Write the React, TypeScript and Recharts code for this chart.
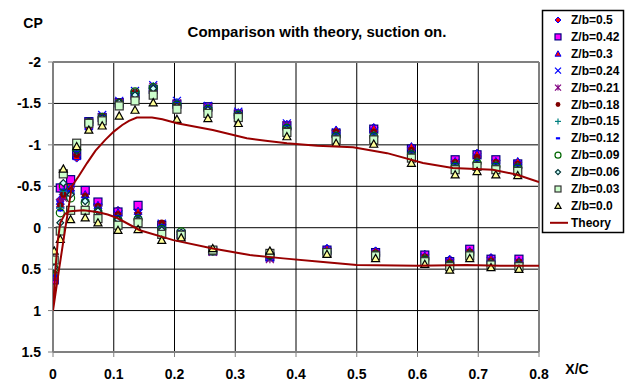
import React from 'react';
import { ScatterChart, Scatter, XAxis, YAxis, CartesianGrid, ReferenceLine } from 'recharts';

// chordwise stations (x/c) of the pressure taps
const upperX = [0.017, 0.039, 0.059, 0.081, 0.109, 0.135, 0.165, 0.204, 0.255, 0.305, 0.385, 0.466, 0.528, 0.59, 0.662, 0.698, 0.729, 0.765];
const lowerX = [0.002, 0.012, 0.029, 0.053, 0.074, 0.107, 0.14, 0.179, 0.211, 0.263, 0.357, 0.451, 0.531, 0.612, 0.653, 0.686, 0.721, 0.767];

// Cp per spanwise station, upper / lower surface
const zb050Up = [-0.40, -0.84, -1.20, -1.30, -1.50, -1.62, -1.68, -1.50, -1.45, -1.38, -1.24, -1.17, -1.21, -0.97, -0.80, -0.90, -0.81, -0.79];
const zb050Lo = [0.62, -0.34, -0.52, -0.42, -0.28, -0.21, -0.22, -0.04, 0.08, 0.27, 0.34, 0.25, 0.28, 0.32, 0.38, 0.27, 0.36, 0.39];
const zb042Up = [-0.48, -0.88, -1.28, -1.33, -1.51, -1.60, -1.67, -1.49, -1.46, -1.37, -1.23, -1.14, -1.19, -0.95, -0.82, -0.88, -0.82, -0.77];
const zb042Lo = [0.63, -0.48, -0.58, -0.45, -0.31, -0.19, -0.27, -0.03, 0.08, 0.28, 0.35, 0.27, 0.30, 0.33, 0.41, 0.26, 0.38, 0.38];
const zb030Up = [-0.38, -0.86, -1.22, -1.29, -1.49, -1.63, -1.69, -1.51, -1.44, -1.39, -1.25, -1.18, -1.20, -0.98, -0.80, -0.89, -0.80, -0.80];
const zb030Lo = [0.60, -0.32, -0.48, -0.40, -0.27, -0.18, -0.20, -0.04, 0.08, 0.27, 0.33, 0.25, 0.28, 0.34, 0.39, 0.28, 0.37, 0.40];
const zb024Up = [-0.42, -0.90, -1.28, -1.36, -1.53, -1.65, -1.72, -1.53, -1.47, -1.40, -1.26, -1.15, -1.15, -0.93, -0.78, -0.83, -0.78, -0.76];
const zb024Lo = [0.61, -0.28, -0.46, -0.37, -0.25, -0.15, -0.17, -0.05, 0.07, 0.28, 0.36, 0.28, 0.31, 0.36, 0.42, 0.30, 0.40, 0.42];
const zb021Up = [-0.36, -0.92, -1.27, -1.33, -1.51, -1.62, -1.70, -1.50, -1.45, -1.38, -1.24, -1.13, -1.13, -0.92, -0.77, -0.82, -0.77, -0.75];
const zb021Lo = [0.58, -0.30, -0.44, -0.36, -0.23, -0.13, -0.14, -0.02, 0.08, 0.29, 0.38, 0.29, 0.32, 0.37, 0.43, 0.31, 0.41, 0.43];
const zb018Up = [-0.40, -0.88, -1.26, -1.35, -1.52, -1.64, -1.68, -1.49, -1.44, -1.36, -1.21, -1.16, -1.16, -0.94, -0.79, -0.85, -0.79, -0.77];
const zb018Lo = [0.55, -0.27, -0.45, -0.38, -0.26, -0.16, -0.16, -0.06, 0.08, 0.27, 0.34, 0.28, 0.30, 0.35, 0.42, 0.29, 0.40, 0.41];
const zb015Up = [-0.44, -0.93, -1.25, -1.34, -1.50, -1.63, -1.71, -1.51, -1.45, -1.37, -1.22, -1.12, -1.12, -0.90, -0.76, -0.80, -0.76, -0.74];
const zb015Lo = [0.56, -0.24, -0.42, -0.34, -0.22, -0.12, -0.13, -0.01, 0.07, 0.28, 0.35, 0.29, 0.32, 0.37, 0.44, 0.31, 0.42, 0.43];
const zb012Up = [-0.46, -0.91, -1.29, -1.35, -1.52, -1.61, -1.70, -1.52, -1.46, -1.39, -1.24, -1.14, -1.14, -0.92, -0.78, -0.82, -0.78, -0.76];
const zb012Lo = [0.58, -0.21, -0.44, -0.36, -0.24, -0.14, -0.15, -0.03, 0.07, 0.27, 0.34, 0.28, 0.31, 0.36, 0.43, 0.30, 0.41, 0.42];
const zb009Up = [-0.50, -0.95, -1.27, -1.33, -1.50, -1.64, -1.69, -1.48, -1.43, -1.36, -1.20, -1.10, -1.10, -0.88, -0.74, -0.78, -0.74, -0.72];
const zb009Lo = [0.49, -0.18, -0.36, -0.30, -0.19, -0.09, -0.10, 0.02, 0.05, 0.28, 0.33, 0.30, 0.33, 0.39, 0.45, 0.33, 0.45, 0.46];
const zb006Up = [-0.54, -0.98, -1.28, -1.32, -1.51, -1.60, -1.68, -1.46, -1.42, -1.35, -1.18, -1.08, -1.08, -0.86, -0.72, -0.76, -0.72, -0.70];
const zb006Lo = [0.48, -0.06, -0.40, -0.32, -0.20, -0.10, -0.09, 0.03, 0.06, 0.27, 0.34, 0.30, 0.33, 0.39, 0.45, 0.32, 0.44, 0.45];
const zb003Up = [-0.65, -1.02, -1.26, -1.29, -1.47, -1.53, -1.60, -1.43, -1.38, -1.33, -1.15, -1.06, -1.06, -0.84, -0.70, -0.74, -0.70, -0.68];
const zb003Lo = [0.39, 0.04, -0.21, -0.21, -0.11, -0.03, -0.06, 0.08, 0.09, 0.27, 0.31, 0.30, 0.34, 0.41, 0.47, 0.34, 0.45, 0.47];
const zb000Up = [-0.71, -0.98, -1.18, -1.23, -1.35, -1.42, -1.51, -1.31, -1.32, -1.26, -1.10, -1.02, -1.01, -0.78, -0.64, -0.68, -0.64, -0.63];
const zb000Lo = [0.28, 0.14, -0.10, -0.12, -0.06, 0.03, 0.02, 0.15, 0.12, 0.25, 0.28, 0.32, 0.37, 0.44, 0.51, 0.37, 0.48, 0.50];

// theory: upper surface from trailing edge to leading edge, then lower surface back
const theoryUpX = [0.8, 0.764, 0.724, 0.658, 0.609, 0.55, 0.494, 0.435, 0.385, 0.35, 0.319, 0.263, 0.204, 0.18, 0.163, 0.138, 0.125, 0.114, 0.1, 0.086, 0.07, 0.056, 0.043, 0.031, 0.02, 0.01, 0];
const theoryUpCp = [-0.55, -0.64, -0.70, -0.72, -0.78, -0.90, -0.97, -0.99, -1.02, -1.05, -1.08, -1.18, -1.26, -1.31, -1.33, -1.33, -1.29, -1.24, -1.16, -1.06, -0.93, -0.78, -0.63, -0.50, 0.02, 0.50, 1.0];
const theoryLoX = [0.004, 0.008, 0.012, 0.02, 0.028, 0.05, 0.073, 0.09, 0.105, 0.143, 0.198, 0.263, 0.324, 0.379, 0.44, 0.5, 0.6, 0.68, 0.736, 0.8];
const theoryLoCp = [0.5, 0.15, -0.06, -0.17, -0.20, -0.21, -0.19, -0.16, -0.12, 0.03, 0.15, 0.25, 0.33, 0.37, 0.41, 0.45, 0.46, 0.45, 0.46, 0.46];

const xTicks = [0, 0.1, 0.2, 0.3, 0.4, 0.5, 0.6, 0.7, 0.8];
const yTicks = [-2, -1.5, -1, -0.5, 0, 0.5, 1, 1.5];

const series = [
  { name: 'Z/b=0.5', up: zb050Up, lo: zb050Lo, kind: 'diamond' },
  { name: 'Z/b=0.42', up: zb042Up, lo: zb042Lo, kind: 'square' },
  { name: 'Z/b=0.3', up: zb030Up, lo: zb030Lo, kind: 'triangle' },
  { name: 'Z/b=0.24', up: zb024Up, lo: zb024Lo, kind: 'x' },
  { name: 'Z/b=0.21', up: zb021Up, lo: zb021Lo, kind: 'star' },
  { name: 'Z/b=0.18', up: zb018Up, lo: zb018Lo, kind: 'dot' },
  { name: 'Z/b=0.15', up: zb015Up, lo: zb015Lo, kind: 'plus' },
  { name: 'Z/b=0.12', up: zb012Up, lo: zb012Lo, kind: 'dash' },
  { name: 'Z/b=0.09', up: zb009Up, lo: zb009Lo, kind: 'circle' },
  { name: 'Z/b=0.06', up: zb006Up, lo: zb006Lo, kind: 'sdiamond' },
  { name: 'Z/b=0.03', up: zb003Up, lo: zb003Lo, kind: 'lsquare' },
  { name: 'Z/b=0.0', up: zb000Up, lo: zb000Lo, kind: 'ytriangle' },
];

const toPoints = (up: number[], lo: number[]) => [
  ...upperX.map((x, i) => ({ x, y: up[i] })),
  ...lowerX.map((x, i) => ({ x, y: lo[i] })),
];

const theoryData = [
  ...theoryUpX.map((x, i) => ({ x, y: theoryUpCp[i] })),
  ...theoryLoX.map((x, i) => ({ x, y: theoryLoCp[i] })),
];

const THEORY = '#990000';
const FONT = '"Liberation Sans", Arial, sans-serif';

function Marker({ kind, cx, cy, s }: { kind: string; cx: number; cy: number; s: number }) {
  switch (kind) {
    case 'diamond':
      return <polygon points={`${cx},${cy - s} ${cx + s},${cy} ${cx},${cy + s} ${cx - s},${cy}`} fill="#FF0000" stroke="#0000FF" strokeWidth={1} />;
    case 'square':
      return <rect x={cx - s} y={cy - s} width={2 * s} height={2 * s} fill="#FF00FF" stroke="#000080" strokeWidth={1.2} />;
    case 'triangle':
      return <polygon points={`${cx},${cy - s} ${cx + s},${cy + s * 0.8} ${cx - s},${cy + s * 0.8}`} fill="#FF0000" stroke="#0000FF" strokeWidth={1} />;
    case 'x':
      return (
        <g stroke="#0000FF" strokeWidth={1.2}>
          <line x1={cx - s} y1={cy - s} x2={cx + s} y2={cy + s} />
          <line x1={cx - s} y1={cy + s} x2={cx + s} y2={cy - s} />
        </g>
      );
    case 'star':
      return (
        <g stroke="#800080" strokeWidth={1.2}>
          <line x1={cx - s} y1={cy - s} x2={cx + s} y2={cy + s} />
          <line x1={cx - s} y1={cy + s} x2={cx + s} y2={cy - s} />
          <line x1={cx} y1={cy - s} x2={cx} y2={cy + s} />
        </g>
      );
    case 'dot':
      return <circle cx={cx} cy={cy} r={s * 0.8} fill="#800000" />;
    case 'plus':
      return (
        <g stroke="#008080" strokeWidth={1.2}>
          <line x1={cx - s} y1={cy} x2={cx + s} y2={cy} />
          <line x1={cx} y1={cy - s} x2={cx} y2={cy + s} />
        </g>
      );
    case 'dash':
      return <line x1={cx - s * 0.7} y1={cy} x2={cx + s * 0.7} y2={cy} stroke="#0000FF" strokeWidth={2.2} />;
    case 'circle':
      return <circle cx={cx} cy={cy} r={s} fill="none" stroke="#006600" strokeWidth={1.2} />;
    case 'sdiamond':
      return <polygon points={`${cx},${cy - s * 0.85} ${cx + s * 0.85},${cy} ${cx},${cy + s * 0.85} ${cx - s * 0.85},${cy}`} fill="#CCFFFF" stroke="#003333" strokeWidth={1.2} />;
    case 'lsquare':
      return <rect x={cx - s} y={cy - s} width={2 * s} height={2 * s} fill="#CCFFCC" stroke="#333333" strokeWidth={1.2} />;
    case 'ytriangle':
      return <polygon points={`${cx},${cy - s} ${cx + s},${cy + s * 0.8} ${cx - s},${cy + s * 0.8}`} fill="#FFFF99" stroke="#000000" strokeWidth={1.2} />;
    default:
      return <g />;
  }
}

const tickStyle = { fontSize: 14, fontWeight: 'bold', fill: '#000', fontFamily: FONT };

export default function App() {
  return (
    <div style={{ position: 'absolute', left: 0, top: 0, width: 625, height: 383, background: '#fff', fontFamily: FONT }}>
      <ScatterChart width={625} height={383} margin={{ top: 62, right: 86, bottom: 0, left: 0 }}>
        <CartesianGrid stroke="#000" strokeWidth={1} />
        <XAxis
          type="number"
          dataKey="x"
          domain={[0, 0.8]}
          ticks={xTicks}
          allowDataOverflow
          height={31}
          tickSize={5}
          tickMargin={12}
          tick={tickStyle}
          axisLine={{ stroke: '#808080', strokeWidth: 2 }}
          tickLine={{ stroke: '#808080' }}
        />
        <YAxis
          type="number"
          dataKey="y"
          domain={[-2, 1.5]}
          reversed
          ticks={yTicks}
          allowDataOverflow
          width={53}
          tickSize={5}
          tickMargin={7}
          tick={tickStyle}
          axisLine={{ stroke: '#808080', strokeWidth: 2 }}
          tickLine={{ stroke: '#808080' }}
        />
        <ReferenceLine x={0.8} stroke="#808080" strokeWidth={2} />
        <ReferenceLine y={-2} stroke="#808080" strokeWidth={2} />
        {series.map((s) => (
          <Scatter
            key={s.name}
            name={s.name}
            data={toPoints(s.up, s.lo)}
            isAnimationActive={false}
            shape={(p: any) => <Marker kind={s.kind} cx={p.cx} cy={p.cy} s={4} />}
          />
        ))}
        <Scatter
          name="Theory"
          data={theoryData}
          isAnimationActive={false}
          line={{ stroke: THEORY, strokeWidth: 2 }}
          lineType="joint"
          shape={() => <g />}
        />
      </ScatterChart>

      <svg width={625} height={383} style={{ position: 'absolute', left: 0, top: 0, pointerEvents: 'none' }}>
        <text x={317} y={31} textAnchor="middle" dominantBaseline="central" fontSize={15} fontWeight="bold" fontFamily={FONT}>
          Comparison with theory, suction on.
        </text>
        <text x={33} y={23} textAnchor="middle" dominantBaseline="central" fontSize={14} fontWeight="bold" fontFamily={FONT}>
          CP
        </text>
        <text x={577} y={369} textAnchor="middle" dominantBaseline="central" fontSize={14} fontWeight="bold" fontFamily={FONT}>
          X/C
        </text>
        <g>
          <rect x={542.5} y={10.5} width={81} height={222} fill="#fff" stroke="#000" strokeWidth={1.5} />
          {series.map((s, i) => (
            <g key={s.name}>
              <Marker kind={s.kind} cx={558} cy={20 + i * 16.9} s={3} />
              <text x={571} y={20 + i * 16.9} dominantBaseline="central" fontSize={12} fontWeight="bold" fontFamily={FONT}>
                {s.name}
              </text>
            </g>
          ))}
          <line x1={550} y1={20 + 12 * 16.9} x2={568} y2={20 + 12 * 16.9} stroke={THEORY} strokeWidth={2} />
          <text x={571} y={20 + 12 * 16.9} dominantBaseline="central" fontSize={12} fontWeight="bold" fontFamily={FONT}>
            Theory
          </text>
        </g>
      </svg>
    </div>
  );
}
